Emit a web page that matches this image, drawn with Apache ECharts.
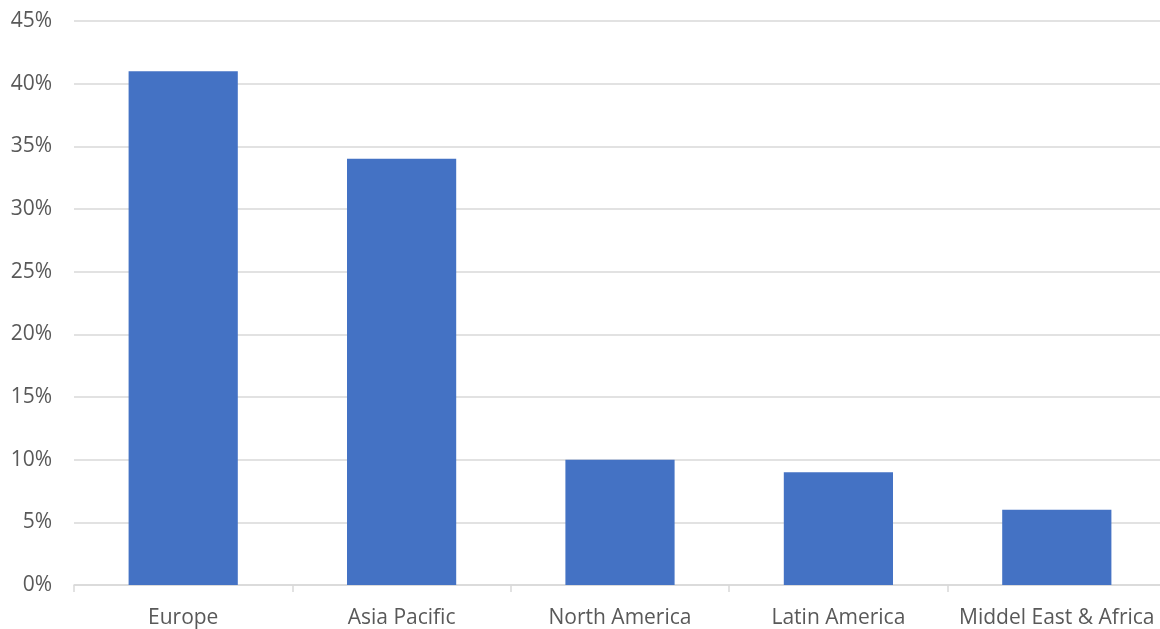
<!DOCTYPE html>
<html>
<head>
<meta charset="utf-8">
<script src="https://cdn.jsdelivr.net/npm/echarts@6/dist/echarts.min.js"></script>
<style>
  html, body { margin: 0; padding: 0; background: #fff; overflow: hidden; }
  #chart { width: 1166px; height: 629px; }
</style>
</head>
<body>
<div id="chart"></div>
<script>
var regions = ["Europe", "Asia Pacific", "North America", "Latin America", "Middel East & Africa"];
var shares = [41, 34, 10, 9, 6];

// chart box is a bit wider than the window, the plot runs past the right edge
var chart = echarts.init(document.getElementById("chart"));
chart.setOption({
  backgroundColor: "#ffffff",
  animation: false,
  grid: {
    left: 74,
    right: 0,
    top: 21,
    bottom: 43,
    containLabel: false
  },
  xAxis: {
    type: "category",
    data: regions,
    axisLine: { lineStyle: { color: "#d9d9d9", width: 1.5 } },
    axisTick: { show: true, length: 7, lineStyle: { color: "#d9d9d9", width: 1.5 } },
    axisLabel: {
      interval: 0,
      color: "#595959",
      fontSize: 21,
      fontFamily: "Open Sans",
      margin: 23
    }
  },
  yAxis: {
    type: "value",
    min: 0,
    max: 45,
    interval: 5,
    axisLine: { show: false },
    axisTick: { show: false },
    splitLine: { lineStyle: { color: "#d9d9d9", width: 1.5 } },
    axisLabel: {
      color: "#595959",
      fontSize: 21,
      fontFamily: "Open Sans",
      margin: 22,
      formatter: function (v) { return v + "%"; }
    }
  },
  series: [
    {
      name: "Share",
      type: "bar",
      data: shares,
      barWidth: "50%",
      itemStyle: { color: "#4472c4" }
    }
  ]
});
</script>
</body>
</html>
